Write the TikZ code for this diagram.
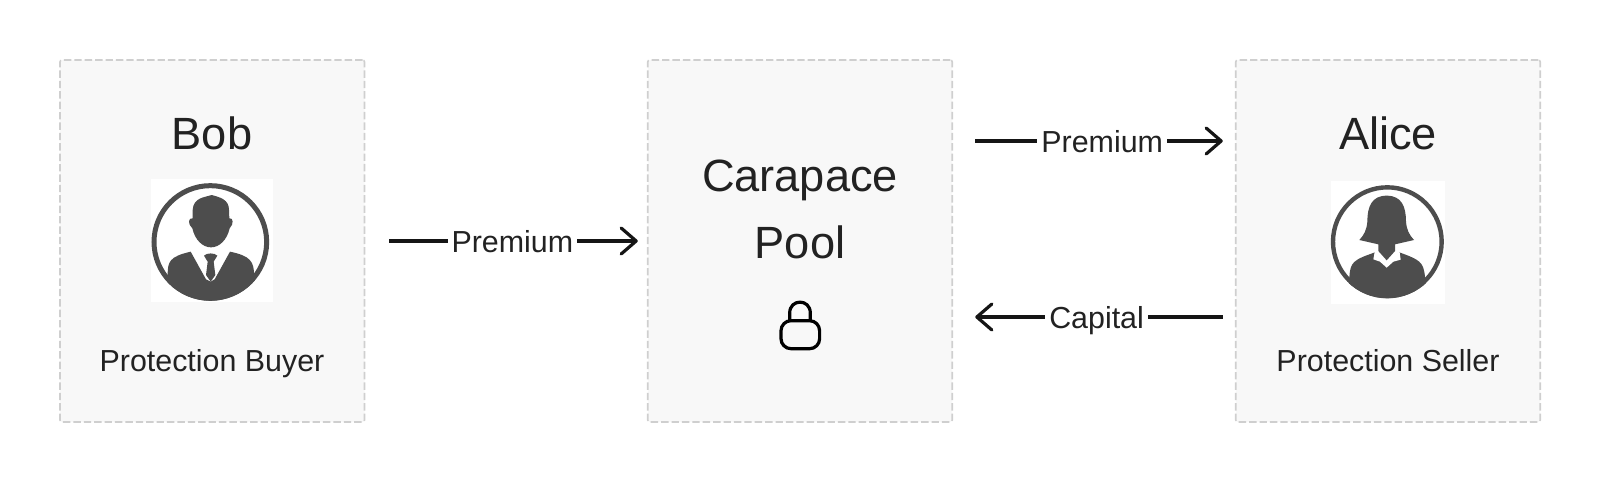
\documentclass[tikz,border=0pt]{standalone}
\usepackage{fontspec}
\setmainfont{Liberation Sans}
\usetikzlibrary{arrows.meta}
\definecolor{boxfill}{HTML}{F8F8F8}
\definecolor{boxline}{HTML}{CFCFCF}
\definecolor{ink}{HTML}{222222}
\definecolor{wire}{HTML}{151515}
\definecolor{icon}{HTML}{4D4D4D}
\tikzset{
	panel/.style={draw=boxline,fill=boxfill,line width=0.8pt,dash pattern=on 3.7pt off 1.5pt,rounded corners=1pt,minimum width=152.25pt,minimum height=181pt,inner sep=0pt,outer sep=0pt},
	title/.style={text=ink,font=\fontsize{22.6}{23}\selectfont,inner sep=0pt,anchor=base},
	role/.style={text=ink,font=\fontsize{15.2}{15}\selectfont,inner sep=0pt,anchor=base},
	flow/.style={draw=wire,line width=1.6pt,-{Straight Barb[length=7.5pt,width=13pt,line width=1.6pt,round]},shorten <=11.5pt,shorten >=6.5pt},
	backflow/.style={draw=wire,line width=1.6pt,{Straight Barb[length=7.5pt,width=13pt,line width=1.6pt,round]}-,shorten <=11.5pt,shorten >=6.5pt},
	amount/.style={fill=white,text=ink,font=\fontsize{15.2}{15}\selectfont,inner sep=2pt,text height=11pt,text depth=0pt},
}
\begin{document}
\begin{tikzpicture}[x=0.5pt,y=-0.5pt]
	\useasboundingbox (0,0) rectangle (1600,482);
	% boxes
	\node[panel] (buyer) at (212.25,241) {};
	\node[panel] (pool) at (800,241) {};
	\node[panel] (seller) at (1388,241) {};
	% texts
	\node[title] (bob) at (212,149) {Bob};
	\node[role] (buyerrole) at (212,371) {Protection Buyer};
	\node[title] (carapace) at (800,191) {Carapace};
	\node[title] (poolname) at (800,258) {Pool};
	\node[title] (alice) at (1388,149) {Alice};
	\node[role] (sellerrole) at (1388,371) {Protection Seller};
	% bob
	\begin{scope}[shift={(130,160)},scale=1/3]
		\fill[white] (62,57) rectangle (430,425);
		\begin{scope}
			\clip (241,246) circle (176);
			\fill[icon] (100,440)--(113,345) .. controls (113,305) and (118,290) .. (182,275)--(228,358)--(242,365)--(254,358)--(300,275) .. controls (362,288) and (372,305) .. (372,345)--(390,440)--cycle;
		\end{scope}
		\draw[icon,line width=2.5pt] (241,246) circle (169);
		\fill[icon] (245,105) .. controls (225,112) and (190,112) .. (188,150)--(188,175) .. controls (175,172) and (172,192) .. (187,205) .. controls (195,240) and (218,262) .. (243,262) .. controls (268,262) and (291,240) .. (299,205) .. controls (312,192) and (310,172) .. (298,175)--(297,150) .. controls (297,118) and (270,112) .. (245,105)--cycle;
		\fill[icon] (222,287) .. controls (230,278) and (254,278) .. (262,287)--(251,305)--(256,345)--(242,365)--(228,345)--(233,305)--cycle;
	\end{scope}
	% alice
	\begin{scope}[shift={(1290,165)},scale=1/3]
		\fill[white] (123,48) rectangle (465,418);
		\begin{scope}
			\clip (292,230) circle (170);
			\fill[icon] (170,420)--(178,340) .. controls (180,290) and (190,285) .. (255,262)--(328,262) .. controls (390,285) and (400,290) .. (405,335)--(420,420)--cycle;
		\end{scope}
		\draw[icon,line width=2.2pt] (292,230) circle (163);
		\fill[white] (255,256)--(250,283)--(270,290)--(290,308)--(310,290)--(332,284)--(328,256)--cycle;
		\fill[icon] (290,92) .. controls (245,92) and (232,125) .. (232,170) .. controls (230,195) and (222,210) .. (208,225)--(265,238)--(265,258)--(290,286)--(315,258)--(315,238)--(372,225) .. controls (358,210) and (350,195) .. (348,170) .. controls (348,125) and (335,92) .. (290,92)--cycle;
	\end{scope}
	% lock
	\draw[draw=black,line width=1.6pt,rounded corners=5pt] (781,320.7) rectangle (819.6,348.7);
	\draw[draw=black,line width=1.6pt] (789.7,320.7)--(789.7,313) .. controls (789.7,298.5) and (810.3,298.5) .. (810.3,313)--(810.3,320.7);
	% arrows
	\coordinate (upper) at (0,141);
	\coordinate (lower) at (0,317);
	\draw[flow,shorten <=12.25pt,shorten >=5pt] (buyer.east) -- node[amount,pos=0.522] (paid) {Premium} (pool.west);
	\draw[flow] (pool.east |- upper) -- node[amount,pos=0.529] (passed) {Premium} (seller.west |- upper);
	\draw[backflow] (pool.east |- lower) -- node[amount,pos=0.509] (capital) {Capital} (seller.west |- lower);
\end{tikzpicture}
\end{document}
